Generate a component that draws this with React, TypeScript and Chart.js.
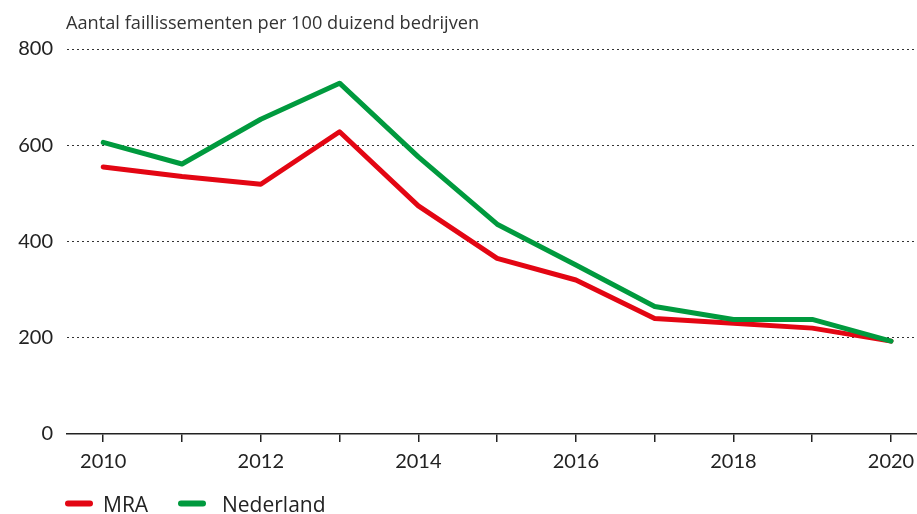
import React, { useEffect, useRef } from "react";
import { Chart, registerables } from "chart.js";

Chart.register(...registerables);

const years = [2010, 2011, 2012, 2013, 2014, 2015, 2016, 2017, 2018, 2019, 2020];
const mra = [555, 535, 519, 628, 474, 365, 320, 240, 230, 220, 193];
const nederland = [606, 561, 654, 729, 576, 436, 351, 265, 238, 238, 193];
const yTicks = [0, 200, 400, 600, 800];
const title = "Aantal faillissementen per 100 duizend bedrijven";
const seriesNames = ["MRA", "Nederland"];
const seriesColors = ["#e30613", "#009a3e"];

const FONT = "Lato, 'Open Sans', sans-serif";
const FONT2 = "'Open Sans', sans-serif";

const overlayPlugin = {
  id: "overlay",
  afterDraw(chart: any) {
    const ctx = chart.ctx;
    ctx.save();
    ctx.fillStyle = "#333";
    ctx.font = `18.2px ${FONT2}`;
    ctx.textBaseline = "alphabetic";
    ctx.textAlign = "left";
    ctx.fillText(title, 66, 28.5);
    // legend
    const y = 503.5;
    const xs = [65, 178];
    const tx = [103, 222];
    ctx.font = `21px ${FONT2}`;
    seriesNames.forEach((name, i) => {
      const x = xs[i];
      ctx.strokeStyle = seriesColors[i];
      ctx.lineWidth = 6;
      ctx.lineCap = "round";
      ctx.beginPath();
      ctx.moveTo(x + 3, y);
      ctx.lineTo(x + 25, y);
      ctx.stroke();
      ctx.fillStyle = "#222";
      ctx.fillText(name, tx[i], 512);
    });
    ctx.restore();
  },
};

export default function App() {
  const ref = useRef<HTMLCanvasElement>(null);
  useEffect(() => {
    document.body.style.margin = "0";
    const mk = (vals: number[]) => vals.map((v, i) => ({ x: years[i], y: v }));
    const chart = new Chart(ref.current!, {
      type: "line",
      data: {
        datasets: [
          {
            label: seriesNames[1],
            data: mk(nederland),
            borderColor: seriesColors[1],
            backgroundColor: seriesColors[1],
            borderWidth: 5,
            pointRadius: 0,
            borderJoinStyle: "round",
            borderCapStyle: "round",
            tension: 0,
          },
          {
            label: seriesNames[0],
            data: mk(mra),
            borderColor: seriesColors[0],
            backgroundColor: seriesColors[0],
            borderWidth: 5,
            pointRadius: 0,
            borderJoinStyle: "round",
            borderCapStyle: "round",
            tension: 0,
          },
        ] as any,
      },
      options: {
        responsive: false,
        animation: false,
        layout: { padding: { top: 49, right: 0, left: 0, bottom: 0 } },
        plugins: { legend: { display: false }, tooltip: { enabled: false }, title: { display: false } },
        scales: {
          x: {
            type: "linear",
            min: 2009.54,
            max: 2020.33,
            afterFit: (s: any) => {
              s.height = 80;
              s.paddingLeft = 0;
              s.paddingRight = 0;
            },
            ticks: {
              stepSize: 1,
              includeBounds: false,
              autoSkip: false,
              maxRotation: 0,
              color: "#222",
              font: { family: FONT, size: 20 },
              padding: 8,
              callback: (v: any) => (Number(v) % 2 === 0 ? String(v) : ""),
            },
            grid: { drawOnChartArea: false, drawTicks: true, tickLength: 8, color: "#222", lineWidth: 1.5 },
            border: { display: true, color: "#222", width: 1.5 },
          },
          y: {
            min: 0,
            max: 800,
            afterFit: (s: any) => {
              s.width = 67;
            },
            afterBuildTicks: (s: any) => {
              s.ticks = yTicks.map((v) => ({ value: v }));
            },
            ticks: {
              color: "#222",
              font: { family: FONT, size: 20 },
              padding: 14,
            },
            grid: {
              drawTicks: false,
              color: (c: any) => (c.tick && c.tick.value === 0 ? "rgba(0,0,0,0)" : "#333"),
              lineWidth: 1,
            },
            border: { display: false, dash: [2, 3] },
          },
        },
      } as any,
      plugins: [overlayPlugin],
    });
    return () => chart.destroy();
  }, []);
  return (
    <div style={{ position: "absolute", left: 0, top: 0, width: 917, height: 514 }}>
      <canvas ref={ref} width={917} height={514} />
    </div>
  );
}
